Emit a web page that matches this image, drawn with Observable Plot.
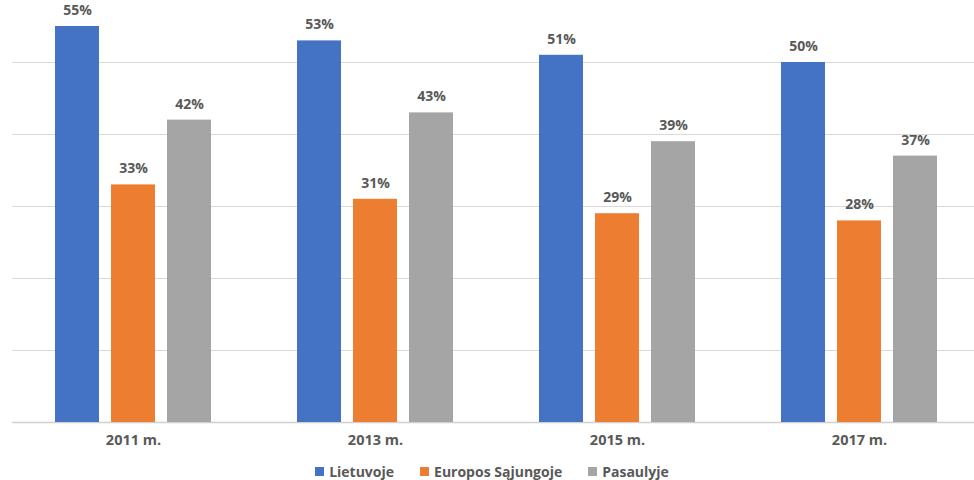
<!DOCTYPE html>
<html>
<head>
<meta charset="utf-8">
<script src="https://cdn.jsdelivr.net/npm/d3@7"></script>
<script src="https://cdn.jsdelivr.net/npm/@observablehq/plot@0.6"></script>
<style>
  html, body { margin: 0; padding: 0; background: #fff; }
  body { width: 974px; font-family: "Open Sans", "Noto Sans", sans-serif; }
  #legend { display: flex; justify-content: center; gap: 26px; margin-left: 10px; font-size: 14px; font-weight: bold; color: #595959; margin-top: 12px; }
  #legend span.item { display: inline-flex; align-items: center; gap: 5px; }
  #legend span.sw { width: 9px; height: 9px; display: inline-block; }
</style>
</head>
<body>
<div id="chart"></div>
<div id="legend"></div>
<script>
const years = ["2011 m.", "2013 m.", "2015 m.", "2017 m."];
const series = ["Lietuvoje", "Europos Sąjungoje", "Pasaulyje"];
const lietuvoje = [55, 53, 51, 50];
const europosSajungoje = [33, 31, 29, 28];
const pasaulyje = [42, 43, 39, 37];
const colors = ["#4472C4", "#ED7D31", "#A5A5A5"];
const gridTicks = [10, 20, 30, 40, 50];

const valuesBySeries = [lietuvoje, europosSajungoje, pasaulyje];
const data = [];
years.forEach((y, i) => {
  series.forEach((s, j) => {
    data.push({year: y, series: s, value: valuesBySeries[j][i]});
  });
});

const chart = Plot.plot({
  width: 974,
  height: 450,
  marginLeft: 12,
  marginRight: -6,
  marginTop: 0,
  marginBottom: 28,
  style: {fontFamily: "'Open Sans', 'Noto Sans', sans-serif", fontSize: "14.5px", fontWeight: "bold", color: "#595959", background: "#fff"},
  fx: {domain: years, paddingInner: 0, paddingOuter: 0, axis: "bottom", label: null, tickSize: 0, tickPadding: 12},
  x: {domain: series, paddingInner: 0.22, paddingOuter: 0.74, axis: null},
  y: {domain: [0, 422 / 7.2], axis: null},
  color: {domain: series, range: colors},
  marks: [
    Plot.ruleY(gridTicks, {stroke: "#d9d9d9", strokeWidth: 1}),
    Plot.ruleY([0], {stroke: "#d0d0d0", strokeWidth: 1.5}),
    Plot.barY(data, {fx: "year", x: "series", y: "value", fill: "series"}),
    Plot.text(data, {fx: "year", x: "series", y: "value", text: d => d.value + "%", dy: -16, fill: "#595959", fontWeight: "bold", fontSize: 14})
  ]
});
document.getElementById("chart").appendChild(chart);

const legend = document.getElementById("legend");
series.forEach((s, j) => {
  const item = document.createElement("span");
  item.className = "item";
  const sw = document.createElement("span");
  sw.className = "sw";
  sw.style.background = colors[j];
  item.appendChild(sw);
  item.appendChild(document.createTextNode(s));
  legend.appendChild(item);
});
</script>
</body>
</html>
